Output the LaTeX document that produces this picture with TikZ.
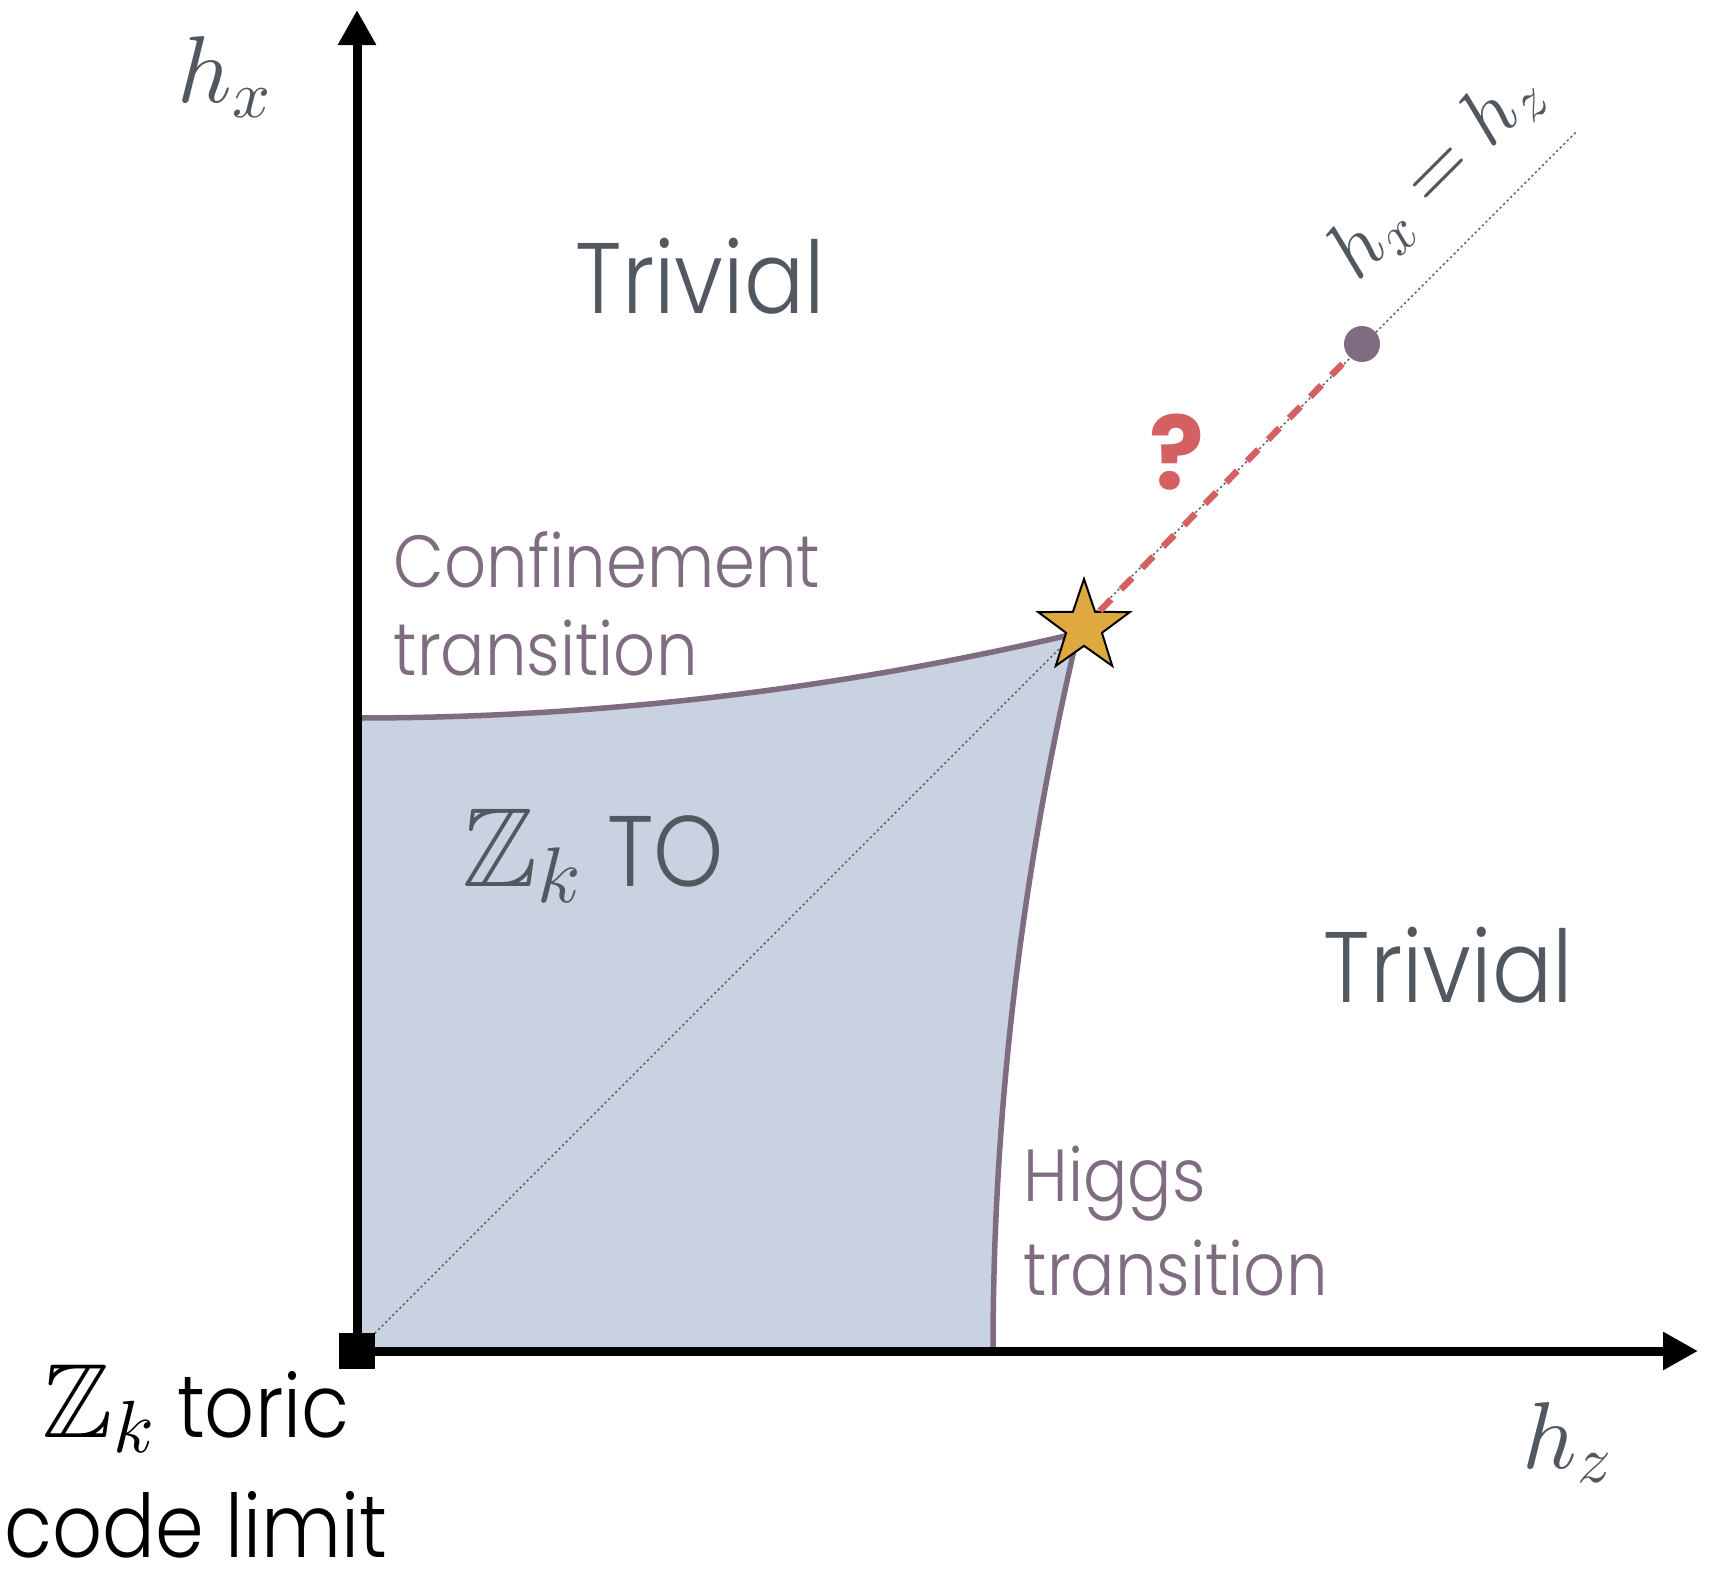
\documentclass[tikz,border=0pt]{standalone}
\usepackage{amssymb}
\DeclareFontFamily{U}{msb}{}
\DeclareFontShape{U}{msb}{m}{n}{<-> msbm10}{}
\DeclareFontShape{OML}{cmm}{m}{it}{<-> cmmi10}{}
\DeclareFontShape{OMS}{cmsy}{m}{n}{<-> cmsy10}{}
\DeclareFontShape{OT1}{cmr}{m}{n}{<-> cmr10}{}
\usepackage{fontspec}
\setmainfont{Poppins Light}[FakeStretch=0.89]
\newfontfamily\popreg{Poppins}
\usetikzlibrary{arrows.meta,shapes.geometric}
\definecolor{txtgray}{HTML}{525860}
\definecolor{phase}{HTML}{806C80}
\definecolor{regfill}{HTML}{C8D2E0}
\definecolor{qred}{HTML}{D46064}
\definecolor{starorange}{HTML}{E0A940}
\newcommand{\bigZk}[1]{{\fontsize{#1}{#1}\selectfont$\mathbb{Z}_k$}}
\tikzset{
  axis/.style={line width=0.09cm, -{Triangle[length=0.35cm,width=0.36cm]}},
  boundary/.style={draw=phase, line width=0.055cm},
  diag/.style={draw=black!65, line width=0.014cm, dash pattern=on 0.022cm off 0.028cm},
  qdash/.style={draw=qred, line width=0.065cm, dash pattern=on 0.16cm off 0.14cm},
  trivtxt/.style={text=txtgray, inner sep=0, font=\fontsize{28.5}{30}\selectfont},
  phtxt/.style={text=phase, inner sep=0, font=\fontsize{21}{24}\selectfont},
  mathlbl/.style={text=txtgray, inner sep=0, font=\fontsize{27}{28}\selectfont},
  limtxt/.style={text=black, inner sep=0, font=\fontsize{25}{27}\selectfont},
}
\begin{document}
\begin{tikzpicture}[x=0.01cm,y=-0.01cm]
\useasboundingbox[fill=white] (0,0) rectangle (1712,1576);
\coordinate (O) at (357,1351);
\coordinate (ytip) at (357,10);
\coordinate (xtip) at (1698,1351);
\coordinate (meet) at (1078,633);
\coordinate (confstart) at (357,718);
\coordinate (higgsend) at (993,1351);
\coordinate (diagend) at (1576,132);
% shaded region
\fill[regfill] (O) -- (confstart) .. controls (596,718) and (836,690) .. (meet)
  .. controls (1021,874) and (993,1114) .. (higgsend) -- cycle;
% diagonal
\draw[diag] (O) -- (diagend);
% boundaries
\draw[boundary] (confstart) .. controls (596,718) and (836,690) .. (meet);
\draw[boundary] (meet) .. controls (1021,874) and (993,1114) .. (higgsend);
% axes
\draw[axis] (O) -- (ytip);
\draw[axis] (O) -- (xtip);
\node[fill=black, minimum size=0.36cm, inner sep=0] (sq) at (O) {};
% dot and star
\node[circle, fill=phase, minimum size=0.36cm, inner sep=0] (dot) at (1362,344) {};
\node[star, star points=5, star point ratio=2.55, minimum size=0.96cm, inner sep=0,
      fill=starorange, draw=black, line width=0.02cm] (star) at (1084,627) {};
\draw[qdash] (star) -- (dot);
\node[text=qred, inner sep=0, font=\popreg\bfseries\fontsize{29}{30}\selectfont] (q) at (1177,452) {?};
% labels
\node[mathlbl, anchor=base west] (hx) at (177,103) {$h_x$};
\node[mathlbl, anchor=base west] (hz) at (1522,1468) {$h_z$};
\node[text=txtgray, inner sep=0, font=\fontsize{23}{25}\selectfont, rotate=45] (eq) at (1436,173) {$h_x = h_z$};
\node[trivtxt, anchor=base west] (triv1) at (575,313) {Trivial};
\node[trivtxt, anchor=base west] (triv2) at (1323,1002) {Trivial};
\node[phtxt, anchor=base west] (conf1) at (393,587) {Confinement};
\node[phtxt, anchor=base west] (conf2) at (393,675) {transition};
\node[phtxt, anchor=base west] (higgs1) at (1023,1201) {Higgs};
\node[phtxt, anchor=base west] (higgs2) at (1023,1295) {transition};
\node[trivtxt, anchor=base west] (zto) at (462,886) {\bigZk{32} TO};
\node[limtxt, anchor=base] (lim1) at (196,1437) {\bigZk{30} toric};
\node[limtxt, anchor=base] (lim2) at (196,1557) {code limit};
\end{tikzpicture}
\end{document}
